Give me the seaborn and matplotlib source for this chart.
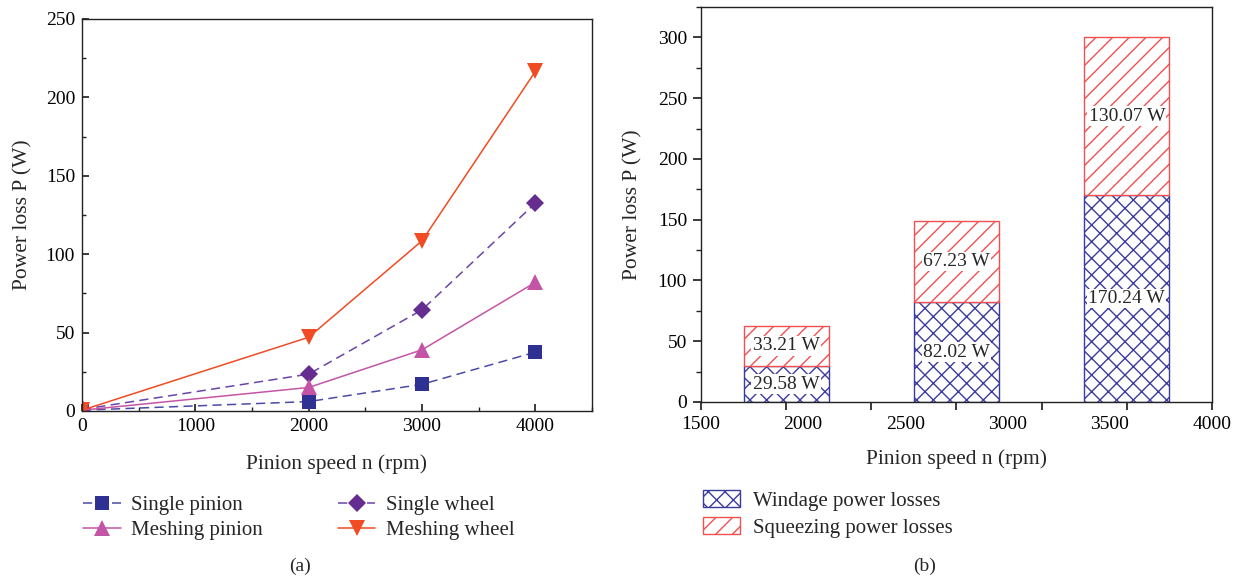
import numpy as np
import pandas as pd
import matplotlib
matplotlib.use('Agg')
import matplotlib.pyplot as plt
from matplotlib.ticker import MultipleLocator, FixedLocator, NullFormatter, FixedFormatter
import seaborn as sns

# (a) power loss vs pinion speed
speeds = [0, 2000, 3000, 4000]
single_pinion = [0.5, 6, 17, 37.5]
single_wheel = [1, 23.5, 64.5, 132.5]
meshing_pinion = [0.5, 15, 39, 82]
meshing_wheel = [0.5, 47, 108.5, 216.5]
series_names = ['Single pinion', 'Single wheel', 'Meshing pinion', 'Meshing wheel']

# (b) stacked losses
bar_pos = [1, 3, 5]
windage = [29.58, 82.02, 170.24]
squeezing = [33.21, 67.23, 130.07]
bar_tick_labels = ['1500', '2000', '2500', '3000', '3500', '4000']

sns.set_theme(style='ticks')
plt.rcParams['font.family'] = ['Liberation Serif', 'DejaVu Serif']
plt.rcParams.update({'font.size': 14, 'xtick.labelsize': 14, 'ytick.labelsize': 14,
                     'axes.labelsize': 15.5, 'legend.fontsize': 15,
                     'hatch.linewidth': 1.0, 'axes.linewidth': 1.0})

colors = {'Single pinion': '#2E3192', 'Single wheel': '#662D91',
          'Meshing pinion': '#C455A6', 'Meshing wheel': '#F04B23'}
line_colors = {'Single pinion': '#4A4AA8', 'Single wheel': '#6A44A8',
               'Meshing pinion': '#C455A6', 'Meshing wheel': '#F04B23'}
markers = {'Single pinion': 's', 'Single wheel': 'D',
           'Meshing pinion': '^', 'Meshing wheel': 'v'}
dashes = {'Single pinion': (6, 3.5), 'Single wheel': (6, 3.5),
          'Meshing pinion': '', 'Meshing wheel': ''}
msize = {'Single pinion': 10, 'Single wheel': 9.5,
         'Meshing pinion': 11, 'Meshing wheel': 11.5}

df = pd.DataFrame({
    'speed': speeds * 4,
    'loss': single_pinion + single_wheel + meshing_pinion + meshing_wheel,
    'series': sum([[n] * len(speeds) for n in series_names], []),
})

fig = plt.figure(figsize=(12.4, 5.8), dpi=100)
ax1 = fig.add_axes([0.0661, 0.2914, 0.4113, 0.6759])
ax2 = fig.add_axes([0.5653, 0.3069, 0.4121, 0.681])

handles = {}
for name in series_names:
    sub = df[df['series'] == name]
    sns.lineplot(data=sub, x='speed', y='loss', ax=ax1, color=line_colors[name],
                 marker=markers[name], markersize=msize[name],
                 markerfacecolor=colors[name], markeredgecolor=colors[name],
                 markeredgewidth=0, linewidth=1.1, legend=False)
    line = ax1.lines[-1]
    if dashes[name]:
        line.set_dashes(dashes[name])
    handles[name] = line

ax1.set_xlim(0, 4500)
ax1.set_ylim(0, 250)
ax1.xaxis.set_major_locator(MultipleLocator(1000))
ax1.xaxis.set_minor_locator(MultipleLocator(500))
ax1.yaxis.set_major_locator(MultipleLocator(50))
ax1.yaxis.set_minor_locator(MultipleLocator(25))
ax1.tick_params(which='both', direction='in', colors='#222222', labelcolor='black')
ax1.tick_params(which='major', length=5, pad=5)
ax1.tick_params(which='minor', length=3)
ax1.set_xlabel('Pinion speed n (rpm)', labelpad=14)
ax1.set_ylabel('Power loss P (W)', labelpad=9.5)
for s in ax1.spines.values():
    s.set_visible(True)
    s.set_color('#222222')

order = ['Single pinion', 'Meshing pinion', 'Single wheel', 'Meshing wheel']
fig.legend([handles[n] for n in order], order, loc='upper left', ncol=2,
           bbox_to_anchor=(0.052, 0.178), frameon=False, handlelength=1.8,
           columnspacing=3.6, labelspacing=0.25, handletextpad=0.5)

# stacked bars
bdf = pd.DataFrame({'pos': bar_pos, 'windage': windage, 'squeezing': squeezing})
sns.barplot(data=bdf, x='pos', y='windage', ax=ax2, native_scale=True, width=0.5,
            color='white', edgecolor='#3B3B9E', hatch='xx', linewidth=1.0,
            label='Windage power losses')
sns.barplot(data=bdf, x='pos', y='squeezing', ax=ax2, native_scale=True, width=0.5,
            bottom=windage, color='white', edgecolor='#F0504F', hatch='//',
            linewidth=1.0, label='Squeezing power losses')
if ax2.get_legend() is not None:
    ax2.get_legend().remove()

for p, w, s in zip(bar_pos, windage, squeezing):
    box = dict(facecolor='white', edgecolor='none', pad=1)
    ax2.text(p, w * 0.5, f'{w:.2f} W', ha='center', va='center', fontsize=14, bbox=box)
    ax2.text(p, w + s * 0.5, f'{s:.2f} W', ha='center', va='center', fontsize=14, bbox=box)

ax2.set_xlim(0, 6)
ax2.set_ylim(0, 325)
ax2.xaxis.remove_overlapping_locs = False
ax2.xaxis.set_major_locator(FixedLocator(range(7)))
ax2.xaxis.set_major_formatter(NullFormatter())
ax2.xaxis.set_minor_locator(FixedLocator(np.linspace(0, 6, len(bar_tick_labels))))
ax2.xaxis.set_minor_formatter(FixedFormatter(bar_tick_labels))
ax2.yaxis.set_major_locator(MultipleLocator(50))
ax2.yaxis.set_minor_locator(MultipleLocator(25))
ax2.tick_params(which='both', direction='out', colors='#222222', labelcolor='black')
ax2.tick_params(axis='x', which='major', length=6)
ax2.tick_params(axis='x', which='minor', length=0, pad=10, labelsize=14)
ax2.tick_params(axis='y', which='major', length=6, pad=4)
ax2.tick_params(axis='y', which='minor', length=3.5)
ax2.set_xlabel('Pinion speed n (rpm)', labelpad=12)
ax2.set_ylabel('Power loss P (W)', labelpad=11)
for s in ax2.spines.values():
    s.set_visible(True)
    s.set_color('#222222')

bh, bl = ax2.get_legend_handles_labels()
fig.legend(bh, bl, loc='upper left', bbox_to_anchor=(0.552, 0.187), frameon=False,
           handlelength=1.75, handleheight=0.85, labelspacing=0.3, handletextpad=0.65)

fig.text(0.242, 0.015, '(a)', ha='center', fontsize=14)
fig.text(0.746, 0.015, '(b)', ha='center', fontsize=14)

plt.savefig('out.png', dpi=100)
